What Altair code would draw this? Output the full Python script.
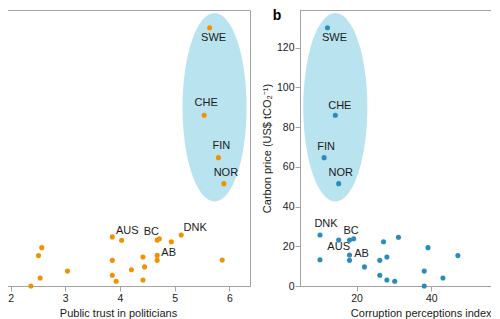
import altair as alt
import pandas as pd

# ---------------- data ----------------
# Panel a: public trust in politicians vs carbon price
trust_x = [5.64, 5.54, 5.80, 5.90, 5.12, 4.94, 4.72, 4.68, 3.86, 4.03, 2.57, 2.51, 3.86,
           4.42, 4.68, 4.68, 5.87, 3.04, 4.21, 4.45, 2.54, 3.86, 1.81, 2.37, 3.93, 4.42]
trust_y = [130.0, 85.9, 64.6, 51.5, 25.7, 22.3, 23.8, 23.1, 24.7, 23.0, 19.3, 15.3, 12.9,
           14.6, 15.4, 12.9, 13.1, 7.5, 8.2, 9.6, 4.0, 5.4, 2.9, 0.0, 2.4, 3.0]
trust_lab = ["SWE", "CHE", "FIN", "NOR", "DNK", "", "BC", "", "AUS", "", "", "", "",
             "", "AB", "", "", "", "", "", "", "", "", "", "", ""]

# Panel b: corruption perceptions index vs carbon price
cpi_x = [12.2, 14.3, 11.3, 15.2, 10.2, 10.2, 15.2, 18.1, 19.2, 18.1, 18.1, 22.1, 26.2,
         26.2, 27.2, 28.1, 28.1, 30.2, 31.2, 38.1, 38.1, 39.1, 43.1, 47.1]
cpi_y = [130.0, 85.9, 64.6, 51.5, 25.7, 13.2, 23.1, 23.1, 23.8, 15.6, 12.9, 9.6, 12.9,
         5.4, 22.3, 14.6, 3.0, 2.4, 24.5, 7.5, 0.0, 19.3, 4.0, 15.3]
cpi_lab = ["SWE", "CHE", "FIN", "NOR", "DNK", "", "AUS", "", "BC", "AB", "", "", "",
           "", "", "", "", "", "", "", "", "", "", ""]

# highlighted group (ellipse centres)
ell_a = {"x": [5.73], "y": [90.0]}
ell_b = {"x": [14.3], "y": [90.0]}

y_ticks = [0, 20, 40, 60, 80, 100, 120]
trust_ticks = [2, 3, 4, 5, 6]
cpi_ticks = [20, 40]

# ---------------- style ----------------
FONT = "Liberation Sans"
GRAY = "#a3a3a3"
TXT = "#1a1a1a"
ORANGE = "#f39200"
BLUE = "#2a8bbd"
ELL = "#b9e3ef"
ELLIPSE = "M0,-1A0.34,1,0,1,1,0,1A0.34,1,0,1,1,0,-1Z"
YDOM = [0, 138.9]
W, H = 264, 276

AX = dict(domainColor=GRAY, tickColor=GRAY, tickSize=5, labelFontSize=10.5,
          titleFontSize=11, labelColor=TXT, titleColor=TXT, titleFontWeight="normal",
          grid=False, labelFont=FONT, titleFont=FONT, domainWidth=1, tickWidth=1)

offs_a = {"SWE": (4, 10), "CHE": (2, -12), "FIN": (3, -12), "NOR": (2, -11),
          "AUS": (15, -6), "BC": (-8, -7), "DNK": (14, -7), "AB": (11.5, -2)}
offs_b = {"SWE": (7, 10), "CHE": (4.5, -9), "FIN": (2, -11), "NOR": (2, -11),
          "DNK": (6, -11), "BC": (-2.5, -8), "AUS": (0, 7), "AB": (12, -1)}


def panel(xs, ys, labs, ell, xdom, xticks, xaxis_extra, color, yaxis, offs, extra=None):
    df = pd.DataFrame({"x": xs, "y": ys, "lab": labs})
    xenc = alt.X("x:Q", scale=alt.Scale(domain=xdom, nice=False, zero=False),
                 axis=alt.Axis(values=xticks, **xaxis_extra, **AX))
    yenc = alt.Y("y:Q", scale=alt.Scale(domain=YDOM, nice=False), axis=yaxis)
    ellipse = alt.Chart(pd.DataFrame(ell)).mark_point(
        shape=ELLIPSE, size=188.5 ** 2, filled=True, color=ELL, opacity=1, strokeWidth=0
    ).encode(x=xenc, y=yenc)
    pts = alt.Chart(df).mark_circle(size=26, color=color, opacity=1).encode(x=xenc, y=yenc)
    layers = [ellipse, pts]
    for lab, (dx, dy) in offs.items():
        layers.append(
            alt.Chart(df).transform_filter(alt.datum.lab == lab).mark_text(
                dx=dx, dy=dy, fontSize=11, font=FONT, color=TXT, align="center",
                baseline="middle"
            ).encode(x=xenc, y=yenc, text="lab:N")
        )
    if extra is not None:
        layers.append(extra)
    return alt.layer(*layers).properties(width=W, height=H)


left = panel(trust_x, trust_y, trust_lab, ell_a, [1.55, 6.378], trust_ticks,
             {"title": "Public trust in politicians"}, ORANGE, None, offs_a)

yaxis_b = alt.Axis(values=y_ticks, title="Carbon price (US$ tCO₂⁻¹)", labelPadding=1, **AX)
tag_b = alt.Chart(pd.DataFrame({"t": ["b"]})).mark_text(
    align="center", baseline="top", fontSize=14, fontWeight="bold", font=FONT, color="#000000"
).encode(x=alt.value(-23), y=alt.value(-1), text="t:N")

right = panel(cpi_x, cpi_y, cpi_lab, ell_b, [4.85, 75.5], cpi_ticks,
              {"title": "Corruption perceptions index", "titleX": 191, "titleAlign": "right"},
              BLUE, yaxis_b, offs_b, extra=tag_b)

chart = alt.hconcat(left, right, spacing=50, bounds="flush").properties(
    padding={"left": -23, "top": 0, "right": -74, "bottom": 0}
).configure(font=FONT).configure_view(stroke=GRAY, strokeWidth=1)

chart.save("out.html", embed_options={"renderer": "svg", "actions": False})
